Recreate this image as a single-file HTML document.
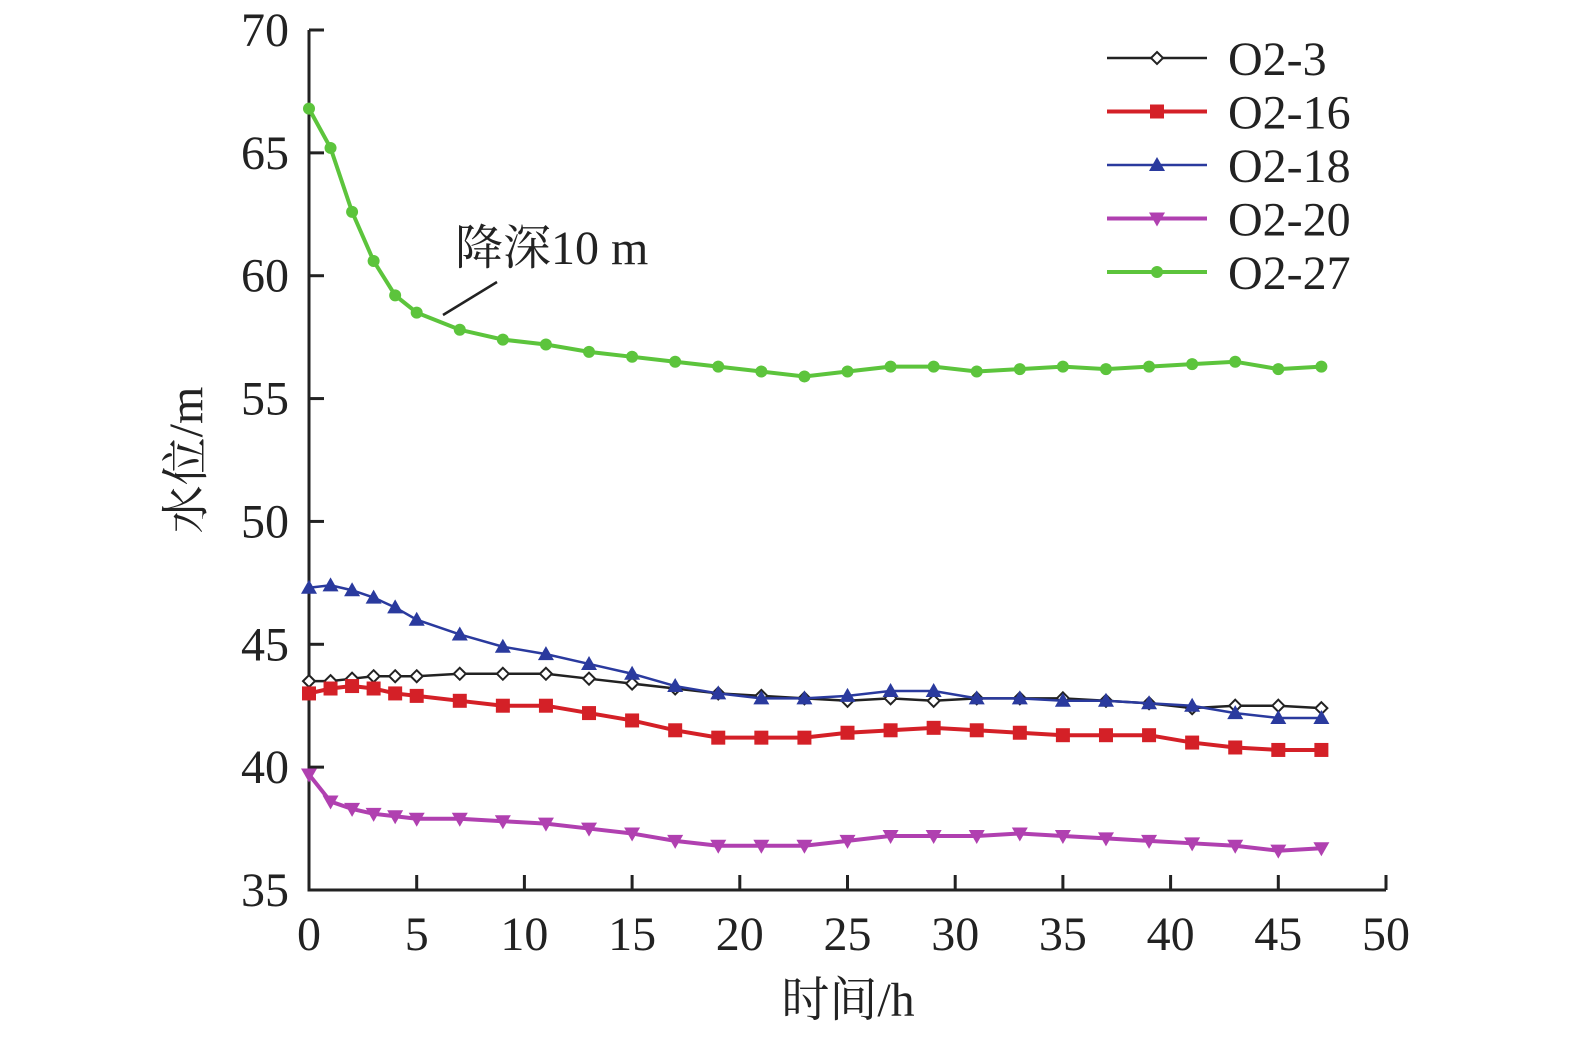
<!DOCTYPE html>
<html><head><meta charset="utf-8"><style>
html,body{margin:0;padding:0;background:#fff;width:1575px;height:1041px;overflow:hidden}
svg text{font-family:"Liberation Serif","Noto Serif CJK SC",serif;fill:#222}
</style></head><body>
<svg id="chart" width="1575" height="1041" xmlns="http://www.w3.org/2000/svg"></svg>
<script>
const times=[0,1,2,3,4,5,7,9,11,13,15,17,19,21,23,25,27,29,31,33,35,37,39,41,43,45,47];
const o2_3=[43.5,43.5,43.6,43.7,43.7,43.7,43.8,43.8,43.8,43.6,43.4,43.2,43.0,42.9,42.8,42.7,42.8,42.7,42.8,42.8,42.8,42.7,42.6,42.4,42.5,42.5,42.4];
const o2_16=[43.0,43.2,43.3,43.2,43.0,42.9,42.7,42.5,42.5,42.2,41.9,41.5,41.2,41.2,41.2,41.4,41.5,41.6,41.5,41.4,41.3,41.3,41.3,41.0,40.8,40.7,40.7];
const o2_18=[47.3,47.4,47.2,46.9,46.5,46.0,45.4,44.9,44.6,44.2,43.8,43.3,43.0,42.8,42.8,42.9,43.1,43.1,42.8,42.8,42.7,42.7,42.6,42.5,42.2,42.0,42.0];
const o2_20=[39.7,38.6,38.3,38.1,38.0,37.9,37.9,37.8,37.7,37.5,37.3,37.0,36.8,36.8,36.8,37.0,37.2,37.2,37.2,37.3,37.2,37.1,37.0,36.9,36.8,36.6,36.7];
const o2_27=[66.8,65.2,62.6,60.6,59.2,58.5,57.8,57.4,57.2,56.9,56.7,56.5,56.3,56.1,55.9,56.1,56.3,56.3,56.1,56.2,56.3,56.2,56.3,56.4,56.5,56.2,56.3];
const xTicks=[0,5,10,15,20,25,30,35,40,45,50];
const yTicks=[35,40,45,50,55,60,65,70];
const seriesNames=["O2-3","O2-16","O2-18","O2-20","O2-27"];

const svg=document.getElementById('chart');
const NS='http://www.w3.org/2000/svg';
const X0=309,X1=1386,Y0=890,Y1=30;
const sx=v=>X0+(v-0)/50*(X1-X0);
const sy=v=>Y0-(v-35)/35*(Y0-Y1);
function mk(t,a,p){const e=document.createElementNS(NS,t);for(const k in a)e.setAttribute(k,a[k]);(p||svg).appendChild(e);return e;}

const ax=mk('g',{});


mk('path',{d:`M${X0},${Y1}V${Y0}H${X1}`,fill:'none',stroke:'#222','stroke-width':3},ax);
yTicks.forEach(v=>{
  const g=mk('g',{},ax);
  
  
  mk('line',{x1:X0,x2:X0+15,y1:sy(v),y2:sy(v),stroke:'#222','stroke-width':3},g);
  const t=mk('text',{x:X0-20,y:sy(v)+16,'text-anchor':'end','font-size':48},g);t.textContent=v;
});
xTicks.forEach(v=>{
  const g=mk('g',{},ax);
  
  
  mk('line',{x1:sx(v),x2:sx(v),y1:Y0,y2:Y0-15,stroke:'#222','stroke-width':3},g);
  const t=mk('text',{x:sx(v),y:950,'text-anchor':'middle','font-size':48},g);t.textContent=v;
});
let t=mk('text',{x:848,y:1016,'text-anchor':'middle','font-size':48});t.textContent='时间/h';


t=mk('text',{x:0,y:0,'text-anchor':'middle','font-size':48,transform:'translate(202,460) rotate(-90)'});t.textContent='水位/m';



const an=mk('g',{});


mk('line',{x1:443,y1:315,x2:497,y2:282,stroke:'#222','stroke-width':2.5},an);
t=mk('text',{x:455,y:264,'font-size':48},an);t.textContent='降深10 m';

const colors=['#222','#d42027','#2a3a9e','#b040b0','#5cc43c'];
const data=[o2_3,o2_16,o2_18,o2_20,o2_27];
const widths=[2.5,4,2.5,4,4];
function marker(i,x,y,g){
  if(i===0) mk('path',{d:`M${x},${y-6}L${x+6},${y}L${x},${y+6}L${x-6},${y}Z`,fill:'#fff',stroke:'#222','stroke-width':2},g);
  else if(i===1) mk('rect',{x:x-7,y:y-7,width:14,height:14,fill:colors[1]},g);
  else if(i===2) mk('path',{d:`M${x},${y-8}L${x+8},${y+6}L${x-8},${y+6}Z`,fill:colors[2]},g);
  else if(i===3) mk('path',{d:`M${x},${y+8}L${x+8},${y-6}L${x-8},${y-6}Z`,fill:colors[3]},g);
  else mk('circle',{cx:x,cy:y,r:6,fill:colors[4]},g);
}
data.forEach((arr,i)=>{
  const g=mk('g',{});
  
  
  mk('polyline',{points:arr.map((v,j)=>sx(times[j])+','+sy(v)).join(' '),fill:'none',stroke:colors[i],'stroke-width':widths[i]},g);
  arr.forEach((v,j)=>marker(i,sx(times[j]),sy(v),g));
  const lg=mk('g',{});
  
  
  const ly=58+i*53.5;
  mk('line',{x1:1107,x2:1207,y1:ly,y2:ly,stroke:colors[i],'stroke-width':widths[i]},lg);
  marker(i,1157,ly,lg);
  const tt=mk('text',{x:1228,y:ly+17,'font-size':48},lg);tt.textContent=seriesNames[i];
});
</script>
</body></html>
